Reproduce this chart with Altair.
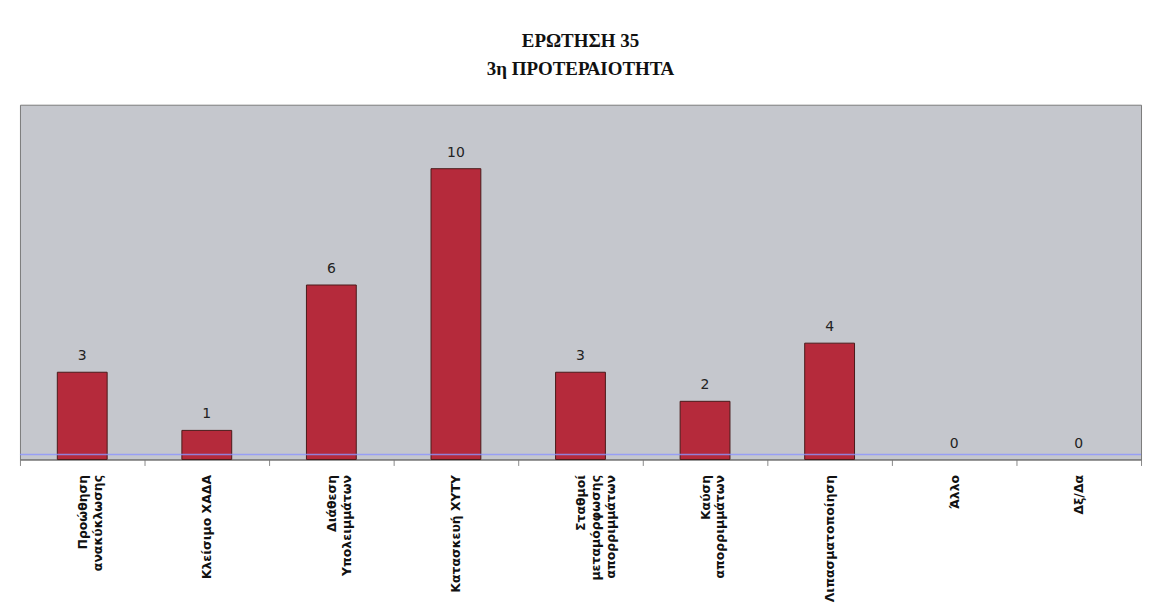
import altair as alt
import pandas as pd

categories = [
    "Προώθηση|ανακύκλωσης",
    "Κλείσιμο ΧΑΔΑ",
    "Διάθεση|Υπολειμμάτων",
    "Κατασκευή ΧΥΤΥ",
    "Σταθμοί|μεταμόρφωσης|απορριμμάτων",
    "Καύση|απορριμμάτων",
    "Λιπασματοποίηση",
    "Άλλο",
    "Δξ/Δα",
]
values = [3, 1, 6, 10, 3, 2, 4, 0, 0]
reference_line = [0.17]
title_lines = ["ΕΡΩΤΗΣΗ 35", "3η ΠΡΟΤΕΡΑΙΟΤΗΤΑ"]

df = pd.DataFrame({"category": categories, "value": values})
ref_df = pd.DataFrame({"y": reference_line})

x_enc = alt.X(
    "category:N",
    sort=categories,
    scale=alt.Scale(paddingInner=0, paddingOuter=0),
    axis=alt.Axis(
        title=None,
        labelAngle=-90,
        labelExpr="split(datum.label, '|')",
        labelFont="DejaVu Sans",
        labelFontWeight="bold",
        labelFontSize=12.5,
        labelLineHeight=15,
        labelColor="#111111",
        labelPadding=9,
        labelAlign="right",
        labelBaseline="middle",
        labelLimit=0,
        tickBand="extent",
        tickSize=6,
        tickColor="#8a8a8a",
        domainColor="#6a6a6a",
    ),
)
y_enc = alt.Y("value:Q", scale=alt.Scale(domain=[0, 12.2], nice=False), axis=None)

base = alt.Chart(df)

bars = base.mark_bar(
    width=alt.RelativeBandSize(0.4),
    color="#B52A3B",
    stroke="#4a1a1a",
    strokeWidth=1,
).encode(
    x=x_enc,
    y=y_enc,
    strokeOpacity=alt.condition("datum.value > 0", alt.value(1), alt.value(0)),
)

labels = base.mark_text(
    dy=-9,
    baseline="bottom",
    font="DejaVu Sans",
    fontSize=14,
    color="#222222",
).encode(x=alt.X("category:N", sort=categories), y=y_enc, text="value:Q")

rule = alt.Chart(ref_df).mark_rule(color="#8c95ff", strokeWidth=1.5, opacity=0.8).encode(
    y=alt.Y("y:Q", scale=alt.Scale(domain=[0, 12.2], nice=False), axis=None)
)

chart = (
    alt.layer(bars, labels, rule)
    .properties(
        width=1125,
        height=356,
        background="white",
        title=alt.TitleParams(
            text=title_lines,
            font="Liberation Serif",
            fontSize=19,
            fontWeight="bold",
            lineHeight=28,
            anchor="middle",
            offset=26,
            color="#111111",
        ),
        autosize=alt.AutoSizeParams(type="none"),
        padding={"left": 12, "top": 96, "right": 5, "bottom": 150},
    )
    .configure_view(fill="#C5C7CD", stroke="#7a7a7a", strokeWidth=1)
)

chart.save("out.html", embed_options={"renderer": "svg", "actions": False})
